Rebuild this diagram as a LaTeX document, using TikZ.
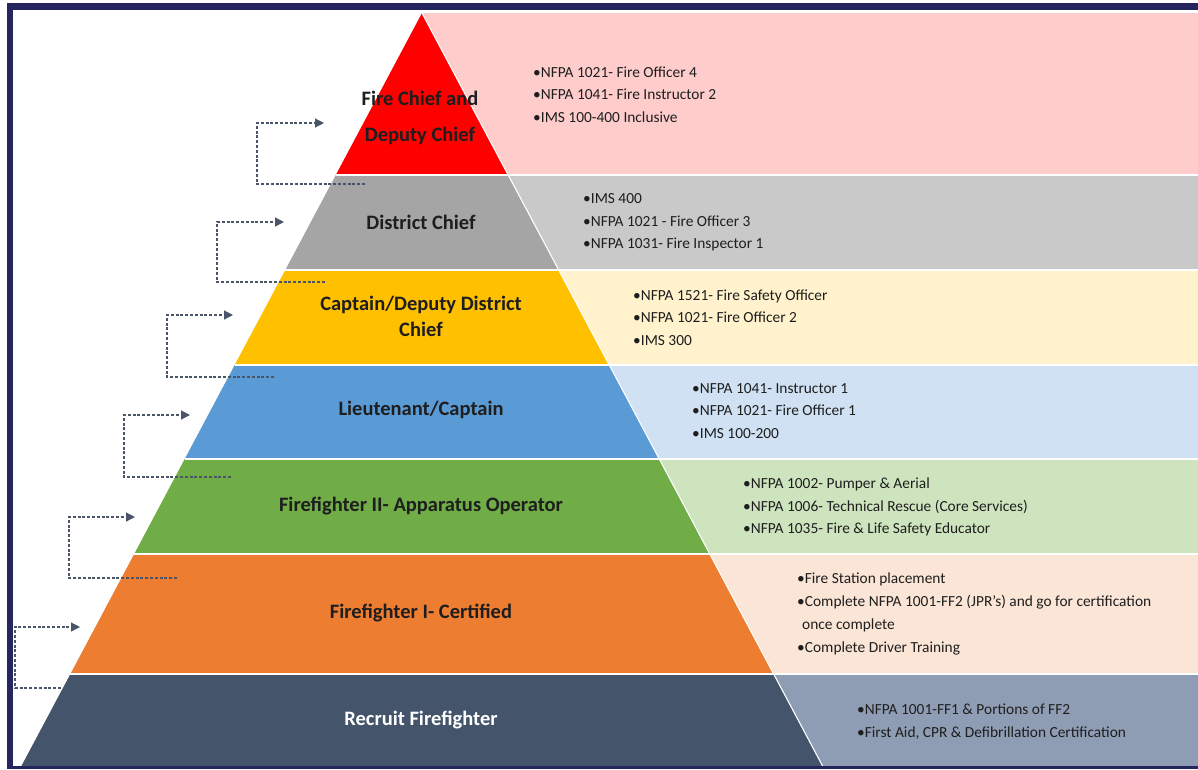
\documentclass[tikz,border=0pt]{standalone}
\usepackage{fontspec}
\setmainfont{Carlito}
\usetikzlibrary{arrows.meta}
\definecolor{frame}{HTML}{26265E}
\definecolor{cRed}{HTML}{FF0000}\definecolor{lRed}{HTML}{FFCCCC}
\definecolor{cGray}{HTML}{A5A5A5}\definecolor{lGray}{HTML}{C9C9C9}
\definecolor{cYel}{HTML}{FFC000}\definecolor{lYel}{HTML}{FFF2CC}
\definecolor{cBlue}{HTML}{5B9BD5}\definecolor{lBlue}{HTML}{CFE1F3}
\definecolor{cGreen}{HTML}{70AD47}\definecolor{lGreen}{HTML}{CDE4BE}
\definecolor{cOrange}{HTML}{ED7D31}\definecolor{lOrange}{HTML}{FBE5D6}
\definecolor{cNavy}{HTML}{44546A}\definecolor{lNavy}{HTML}{8F9DB4}
\definecolor{arrowc}{HTML}{4A5668}
\definecolor{txt}{HTML}{1E1E1E}
\begin{document}
\begin{tikzpicture}[x=1pt,y=-1pt,
  lvl/.style={font=\fontsize{20.5}{24}\selectfont\bfseries, text=txt, align=center, inner sep=0},
  lst/.style={font=\fontsize{15.4}{22.7}\selectfont, text=txt, align=left, anchor=west, inner sep=0},
  promo/.style={draw=arrowc, dash pattern=on 3pt off 1.8pt, line width=1.2pt},
  tip/.style={-{Triangle[length=9pt,width=9pt]}},
  sep/.style={draw=white, line width=1.5pt}
]
\useasboundingbox (0,0) rectangle (1198,769);
\fill[white] (0,0) rectangle (1198,769);
% light bands
\fill[lRed] (422,13) -- (1198,13) -- (1198,175) -- (508.2,175) -- cycle;
\fill[lGray] (508.2,175) -- (1198,175) -- (1198,270) -- (558.7,270) -- cycle;
\fill[lYel] (558.7,270) -- (1198,270) -- (1198,365) -- (609.3,365) -- cycle;
\fill[lBlue] (609.3,365) -- (1198,365) -- (1198,459) -- (659.3,459) -- cycle;
\fill[lGreen] (659.3,459) -- (1198,459) -- (1198,554) -- (709.8,554) -- cycle;
\fill[lOrange] (709.8,554) -- (1198,554) -- (1198,674) -- (773.6,674) -- cycle;
\fill[lNavy] (773.6,674) -- (1198,674) -- (1198,766) -- (822.6,766) -- cycle;
% pyramid
\fill[cRed] (422,13) -- (508.2,175) -- (335.8,175) -- cycle;
\fill[cGray] (335.8,175) -- (508.2,175) -- (558.7,270) -- (285.3,270) -- cycle;
\fill[cYel] (285.3,270) -- (558.7,270) -- (609.3,365) -- (234.7,365) -- cycle;
\fill[cBlue] (234.7,365) -- (609.3,365) -- (659.3,459) -- (184.7,459) -- cycle;
\fill[cGreen] (184.7,459) -- (659.3,459) -- (709.8,554) -- (134.2,554) -- cycle;
\fill[cOrange] (134.2,554) -- (709.8,554) -- (773.6,674) -- (70.4,674) -- cycle;
\fill[cNavy] (70.4,674) -- (773.6,674) -- (822.6,766) -- (21.4,766) -- cycle;
% separators
\draw[sep] (335.8,175) -- (1198,175);
\draw[sep] (285.3,270) -- (1198,270);
\draw[sep] (234.7,365) -- (1198,365);
\draw[sep] (184.7,459) -- (1198,459);
\draw[sep] (134.2,554) -- (1198,554);
\draw[sep] (70.4,674) -- (1198,674);
\draw[white, line width=1.1pt] (422,13) -- (822.6,766);
% frame
\fill[frame] (7,3) rectangle (1198,10);
\fill[frame] (7,3) rectangle (13,769);
\fill[frame] (7,766) rectangle (1198,769);
% level labels
\node[lvl, font=\fontsize{20.5}{36}\selectfont\bfseries] (l1) at (420,118) {Fire Chief and\\Deputy Chief};
\node[lvl] (l2) at (421,222) {District Chief};
\node[lvl, font=\fontsize{20.5}{26}\selectfont\bfseries] (l3) at (421,316) {Captain/Deputy District\\Chief};
\node[lvl] (l4) at (421,410) {Lieutenant/Captain};
\node[lvl] (l5) at (421,506) {Firefighter II- Apparatus Operator};
\node[lvl] (l6) at (421,613) {Firefighter I- Certified};
\node[lvl, text=white] (l7) at (421,720) {Recruit Firefighter};
% requirement lists
\node[lst] (r1) at (533,94.5) {•NFPA 1021- Fire Officer 4\\•NFPA 1041- Fire Instructor 2\\•IMS 100-400 Inclusive};
\node[lst] (r2) at (583,222.5) {•IMS 400\\•NFPA 1021 - Fire Officer 3\\•NFPA 1031- Fire Inspector 1};
\node[lst] (r3) at (633,317.5) {•NFPA 1521- Fire Safety Officer\\•NFPA 1021- Fire Officer 2\\•IMS 300};
\node[lst] (r4) at (692,411) {•NFPA 1041- Instructor 1\\•NFPA 1021- Fire Officer 1\\•IMS 100-200};
\node[lst] (r5) at (743,507) {•NFPA 1002- Pumper \& Aerial\\•NFPA 1006- Technical Rescue (Core Services)\\•NFPA 1035- Fire \& Life Safety Educator};
\node[lst] (r6) at (797,614) {•Fire Station placement\\•Complete NFPA 1001-FF2 (JPR's) and go for certification\\\hspace*{5pt}once complete\\•Complete Driver Training};
\node[lst] (r7) at (857,721.5) {•NFPA 1001-FF1 \& Portions of FF2\\•First Aid, CPR \& Defibrillation Certification};
% promotion arrows
\coordinate (a1s) at (365,184); \coordinate (a1e) at (324,123);
\coordinate (a2s) at (325,282); \coordinate (a2e) at (284,222);
\coordinate (a3s) at (274,377); \coordinate (a3e) at (233,315);
\coordinate (a4s) at (231,477); \coordinate (a4e) at (190,415);
\coordinate (a5s) at (177,578); \coordinate (a5e) at (135,517);
\coordinate (a6s) at (61,688);  \coordinate (a6e) at (80,627);
\draw[promo,tip] (a1s) -- ++(-108,0) |- (a1e);
\draw[promo,tip] (a2s) -- ++(-108,0) |- (a2e);
\draw[promo,tip] (a3s) -- ++(-107,0) |- (a3e);
\draw[promo,tip] (a4s) -- ++(-107,0) |- (a4e);
\draw[promo,tip] (a5s) -- ++(-108,0) |- (a5e);
\draw[promo,tip] (a6s) -- ++(-46,0) |- (a6e);
\end{tikzpicture}
\end{document}
